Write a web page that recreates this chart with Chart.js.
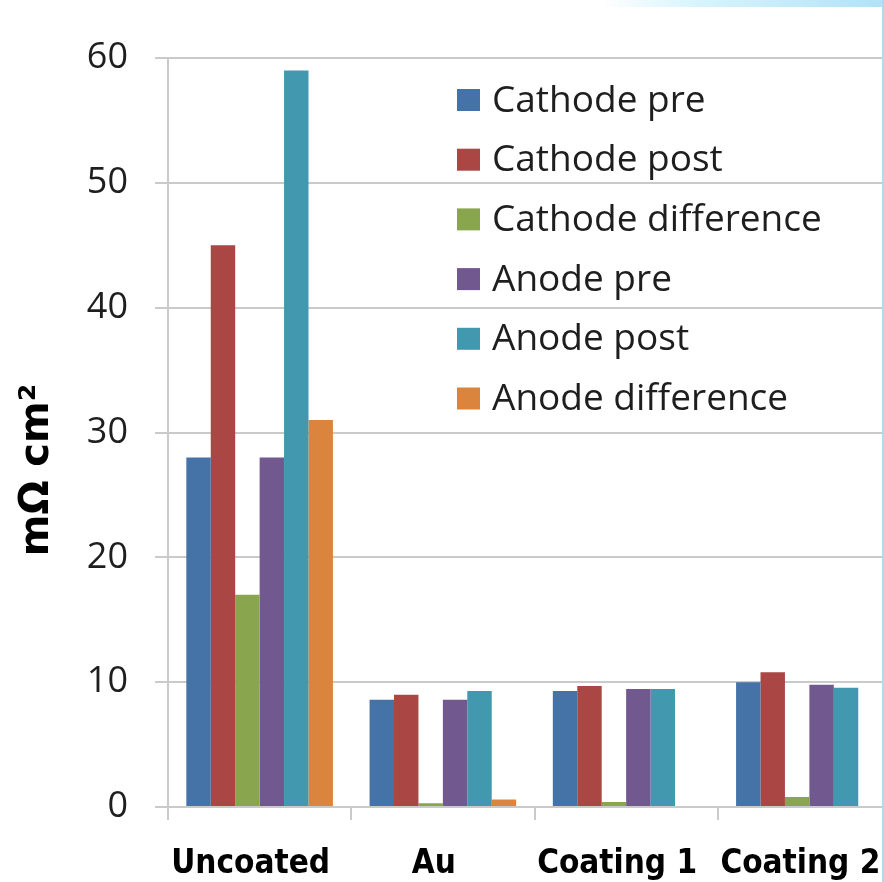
<!DOCTYPE html>
<html>
<head>
<meta charset="utf-8">
<script src="https://cdn.jsdelivr.net/npm/chart.js@4"></script>
<style>
  html, body { margin: 0; padding: 0; background: #fff; overflow: hidden; }
  body { width: 884px; height: 882px; position: relative; }
  #c { position: absolute; left: 0; top: 0; }
  /* slide decoration bits at the edges of the screenshot */
  .topstrip { position: absolute; left: 600px; top: 0; width: 284px; height: 7px;
    background: linear-gradient(to right, rgba(200,238,250,0), #d6f4fc 35%, #b2e2f7 100%); }
  .rightstrip { position: absolute; right: 0; top: 0; width: 2px; height: 882px; background: #a9dcf4; }
</style>
</head>
<body>
<canvas id="c" width="920" height="882"></canvas>
<div class="topstrip"></div>
<div class="rightstrip"></div>
<script>
const categories = ['Uncoated', 'Au', 'Coating 1', 'Coating 2'];

const cathodePre = [28, 8.6, 9.3, 10.0];
const cathodePost = [45, 9.0, 9.7, 10.8];
const cathodeDiff = [17, 0.3, 0.4, 0.8];
const anodePre = [28, 8.6, 9.45, 9.8];
const anodePost = [59, 9.3, 9.45, 9.55];
const anodeDiff = [31, 0.6, null, null];

const seriesNames = ['Cathode pre', 'Cathode post', 'Cathode difference', 'Anode pre', 'Anode post', 'Anode difference'];
const seriesColors = ['#4572a7', '#aa4643', '#89a54e', '#71588f', '#4198af', '#db843d'];

const yTicks = [0, 10, 20, 30, 40, 50, 60];
const yTitle = 'mΩ cm²';

const gridColor = '#cacaca';
const textColor = '#1e1e1e';

// legend sits inside the plot, drawn from the datasets
const insideLegend = {
  id: 'insideLegend',
  afterDraw(chart) {
    const ctx = chart.ctx;
    ctx.save();
    ctx.font = '37px "Open Sans"';
    ctx.textBaseline = 'middle';
    ctx.textAlign = 'left';
    chart.data.datasets.forEach((ds, i) => {
      const y = 100 + i * 59.7;
      ctx.fillStyle = ds.backgroundColor;
      ctx.fillRect(457, y - 11, 23, 22);
      ctx.fillStyle = textColor;
      ctx.fillText(ds.label, 492, y + 1);
    });
    ctx.restore();
  }
};

// y title sits a bit below the middle of the axis, so it is drawn here
const yTitlePlugin = {
  id: 'yTitlePlugin',
  afterDraw(chart) {
    const ctx = chart.ctx;
    ctx.save();
    ctx.translate(38, 470);
    ctx.rotate(-Math.PI / 2);
    ctx.font = 'bold 40px "DejaVu Sans"';
    ctx.fillStyle = '#000';
    ctx.textAlign = 'center';
    ctx.textBaseline = 'middle';
    ctx.fillText(yTitle, 0, 0);
    ctx.restore();
  }
};

const datasetValues = [cathodePre, cathodePost, cathodeDiff, anodePre, anodePost, anodeDiff];

new Chart(document.getElementById('c'), {
  type: 'bar',
  data: {
    labels: categories,
    datasets: datasetValues.map((vals, i) => ({
      label: seriesNames[i],
      data: vals,
      backgroundColor: seriesColors[i],
      borderWidth: 0,
      categoryPercentage: 0.8,
      barPercentage: 1.0
    }))
  },
  options: {
    responsive: false,
    animation: false,
    layout: { padding: { top: 58, right: 19, left: 0, bottom: 0 } },
    plugins: {
      legend: { display: false },
      tooltip: { enabled: false }
    },
    scales: {
      x: {
        afterFit(scale) { scale.height = 75; },
        grid: {
          display: true,
          drawOnChartArea: false,
          drawTicks: true,
          tickLength: 13,
          color: gridColor,
          lineWidth: 2
        },
        border: { display: true, color: gridColor, width: 2 },
        ticks: {
          color: '#000',
          padding: 25,
          labelOffset: -9,
          maxRotation: 0,
          font: { family: '"DejaVu Sans Condensed", "DejaVu Sans"', size: 33, weight: 'bold', lineHeight: 1.2 }
        }
      },
      y: {
        min: 0,
        max: 60,
        afterFit(scale) { scale.width = 168; },
        afterBuildTicks(scale) { scale.ticks = yTicks.map(v => ({ value: v })); },
        grid: {
          color: gridColor,
          lineWidth: 2,
          drawTicks: true,
          tickLength: 13
        },
        border: { display: true, color: gridColor, width: 2 },
        ticks: {
          color: textColor,
          padding: 27,
          font: { family: '"Open Sans"', size: 36, lineHeight: 1.2 }
        }
      }
    }
  },
  plugins: [insideLegend, yTitlePlugin]
});
</script>
</body>
</html>
